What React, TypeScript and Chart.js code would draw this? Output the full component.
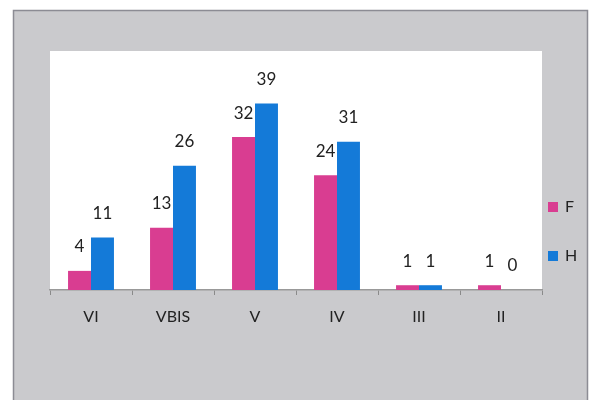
import React, { useEffect, useRef } from "react";
import { Chart, registerables } from "chart.js";

Chart.register(...registerables);

const categories = ["VI", "VBIS", "V", "IV", "III", "II"];
const seriesF = [4, 13, 32, 24, 1, 1];
const seriesH = [11, 26, 39, 31, 1, 0];
const seriesNames = ["F", "H"];
const seriesColors = ["#d93d91", "#147ad8"];

const FONT = "Lato, 'Open Sans', sans-serif";

const backgroundPlugin = {
  id: "bgPanel",
  beforeDraw(chart: any) {
    const { ctx, chartArea } = chart;
    ctx.save();
    ctx.fillStyle = "#ffffff";
    ctx.fillRect(0, 0, chart.width, chart.height);
    ctx.fillStyle = "#cacacd";
    ctx.fillRect(13, 10, 575, 390);
    ctx.strokeStyle = "#8c8c94";
    ctx.lineWidth = 1.5;
    ctx.beginPath();
    ctx.moveTo(13.5, 400);
    ctx.lineTo(13.5, 10.5);
    ctx.lineTo(587.5, 10.5);
    ctx.lineTo(587.5, 400);
    ctx.stroke();
    ctx.fillStyle = "#ffffff";
    ctx.fillRect(chartArea.left, chartArea.top, chartArea.right - chartArea.left, chartArea.bottom - chartArea.top);
    ctx.restore();
  },
};

const labelPlugin = {
  id: "valueLabels",
  afterDatasetsDraw(chart: any) {
    const { ctx } = chart;
    ctx.save();
    ctx.fillStyle = "#222222";
    ctx.font = `17px ${FONT}`;
    ctx.textAlign = "center";
    ctx.textBaseline = "middle";
    chart.data.datasets.forEach((ds: any, i: number) => {
      const meta = chart.getDatasetMeta(i);
      meta.data.forEach((bar: any, j: number) => {
        ctx.fillText(String(ds.data[j]), bar.x, bar.y - 24);
      });
    });
    ctx.restore();
  },
};

const legendPlugin = {
  id: "sideLegend",
  afterDraw(chart: any) {
    const { ctx } = chart;
    ctx.save();
    ctx.font = `16px ${FONT}`;
    ctx.textBaseline = "middle";
    ctx.textAlign = "left";
    chart.data.datasets.forEach((ds: any, i: number) => {
      const cy = 207 + i * 49;
      ctx.fillStyle = ds.backgroundColor;
      ctx.fillRect(548, cy - 5, 10, 10);
      ctx.fillStyle = "#222222";
      ctx.fillText(ds.label, 565, cy);
    });
    ctx.restore();
  },
};

export default function App() {
  const ref = useRef<HTMLCanvasElement>(null);
  useEffect(() => {
    if (!ref.current) return;
    const chart = new Chart(ref.current, {
      type: "bar",
      data: {
        labels: categories,
        datasets: [
          { label: seriesNames[0], data: seriesF, backgroundColor: seriesColors[0], categoryPercentage: 0.56, barPercentage: 1 },
          { label: seriesNames[1], data: seriesH, backgroundColor: seriesColors[1], categoryPercentage: 0.56, barPercentage: 1 },
        ],
      },
      options: {
        responsive: false,
        animation: false,
        layout: { padding: { left: 50, right: 53, top: 51, bottom: 0 } },
        plugins: { legend: { display: false }, tooltip: { enabled: false } },
        scales: {
          y: { display: false, min: 0, max: 50 },
          x: {
            grid: { display: true, drawOnChartArea: false, drawTicks: true, tickLength: 5, color: "#8a8a8a", offset: true },
            border: { display: true, color: "#999999", width: 1.5 },
            ticks: { color: "#222222", font: { size: 16, family: FONT }, padding: 12 },
            afterFit(scale: any) {
              scale.height = 110;
            },
          },
        },
      },
      plugins: [backgroundPlugin, labelPlugin, legendPlugin],
    });
    return () => chart.destroy();
  }, []);
  return (
    <div style={{ position: "fixed", left: 0, top: 0, width: 595, height: 400 }}>
      <canvas ref={ref} width={595} height={400} />
    </div>
  );
}
